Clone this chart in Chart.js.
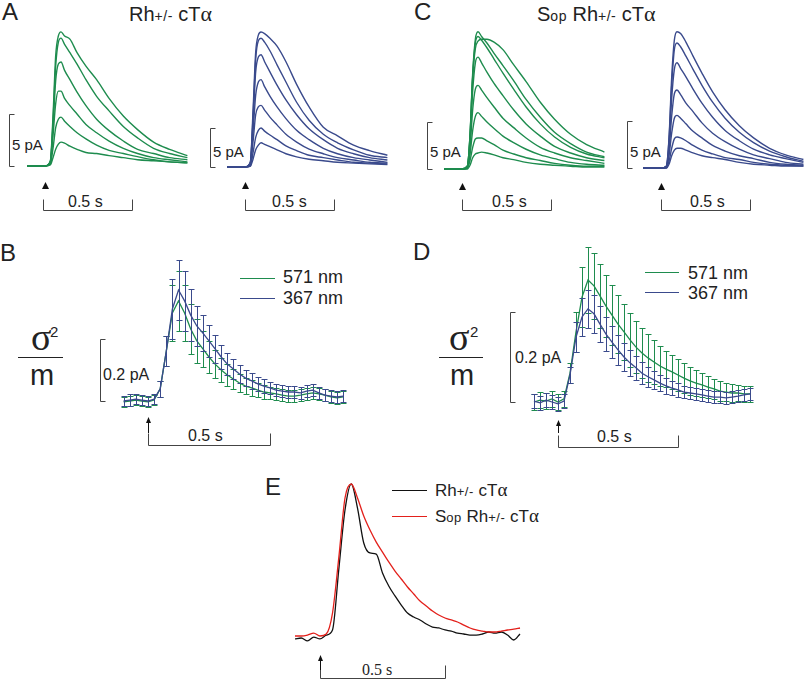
<!DOCTYPE html>
<html>
<head>
<meta charset="utf-8">
<script src="https://cdn.jsdelivr.net/npm/chart.js@4"></script>
<style>
  body { margin: 0; background: #fff; }
  #fig { position: relative; width: 805px; height: 681px; overflow: hidden;
         font-family: "Liberation Sans", Arial, sans-serif; color: #222; }
  #fig canvas { position: absolute; }
  .t { position: absolute; line-height: 1; white-space: nowrap; }
  .L { font-size: 24px; }
  .ttl { font-size: 20px; }
  .sm { font-size: 14px; letter-spacing: 0.5px; }
  .al { font-family: "Liberation Serif", serif; font-size: 22px; }
  .s14 { font-size: 15px; }
  .s15 { font-size: 16px; }
  .leg { font-size: 18px; }
  .eleg { font-size: 17px; }
  .eleg .sm { font-size: 13px; }
  .eleg .al { font-size: 19px; }
  .serif { font-family: "Liberation Serif", serif; }
  .ln { position: absolute; height: 0; border-top: 1.5px solid; }
  .frac { position: absolute; height: 0; border-top: 1.5px solid #222; }
</style>
</head>
<body>
<div id="fig">
  <!-- panel letters -->
  <div class="t L" style="left:2px;top:0px">A</div>
  <div class="t L" style="left:414px;top:0px">C</div>
  <div class="t L" style="left:0px;top:241px">B</div>
  <div class="t L" style="left:413px;top:240px">D</div>
  <div class="t L" style="left:265px;top:475px">E</div>

  <!-- titles -->
  <div class="t ttl" style="left:129px;top:3px">Rh<span class="sm">+/-</span> cT<span class="al">α</span></div>
  <div class="t ttl" style="left:537px;top:3px">S<span class="sm">op</span> Rh<span class="sm">+/-</span> cT<span class="al">α</span></div>

  <!-- scale bar labels A / C -->
  <div class="t s14" style="left:12px;top:137px">5 pA</div>
  <div class="t s14" style="left:213px;top:144px">5 pA</div>
  <div class="t s14" style="left:430px;top:144px">5 pA</div>
  <div class="t s14" style="left:630px;top:144px">5 pA</div>
  <div class="t s15" style="left:68px;top:194px">0.5 s</div>
  <div class="t s15" style="left:272px;top:194px">0.5 s</div>
  <div class="t s15" style="left:492px;top:194px">0.5 s</div>
  <div class="t s15" style="left:690px;top:194px">0.5 s</div>

  <!-- B -->
  <div class="t serif" style="left:31px;top:318px;font-size:38px">σ</div>
  <div class="t" style="left:50px;top:324px;font-size:15px">2</div>
  <div class="frac" style="left:18px;top:357px;width:45px"></div>
  <div class="t" style="left:30px;top:361px;font-size:29px">m</div>
  <div class="t s15" style="left:103px;top:367px">0.2 pA</div>
  <div class="t s15" style="left:188px;top:428px">0.5 s</div>
  <div class="ln" style="left:240px;top:278px;width:35px;border-color:#1e8c4e"></div>
  <div class="ln" style="left:240px;top:298px;width:35px;border-color:#3a4a8c"></div>
  <div class="t leg" style="left:283px;top:268px">571 nm</div>
  <div class="t leg" style="left:283px;top:289px">367 nm</div>

  <!-- D -->
  <div class="t serif" style="left:449px;top:318px;font-size:38px">σ</div>
  <div class="t" style="left:470px;top:324px;font-size:15px">2</div>
  <div class="frac" style="left:439px;top:357px;width:44px"></div>
  <div class="t" style="left:450px;top:361px;font-size:29px">m</div>
  <div class="t s15" style="left:515px;top:350px">0.2 pA</div>
  <div class="t s15" style="left:597px;top:429px">0.5 s</div>
  <div class="ln" style="left:645px;top:272px;width:34px;border-color:#1e8c4e"></div>
  <div class="ln" style="left:645px;top:292px;width:34px;border-color:#3a4a8c"></div>
  <div class="t leg" style="left:688px;top:264px">571 nm</div>
  <div class="t leg" style="left:688px;top:284px">367 nm</div>

  <!-- E -->
  <div class="ln" style="left:392px;top:490px;width:35px;border-color:#111"></div>
  <div class="ln" style="left:392px;top:516px;width:35px;border-color:#e3201b"></div>
  <div class="t eleg" style="left:435px;top:480px">Rh<span class="sm">+/-</span> cT<span class="al">α</span></div>
  <div class="t eleg" style="left:435px;top:506px">S<span class="sm">op</span> Rh<span class="sm">+/-</span> cT<span class="al">α</span></div>
  <div class="t serif" style="left:362px;top:662px;font-size:16px">0.5 s</div>
</div>

<script>
// sample times (s) of the single-cell response families, 0 = flash
var traceTime = [-0.1, -0.05, 0, 0.03, 0.045, 0.06, 0.075, 0.09, 0.11, 0.14, 0.18, 0.23, 0.29, 0.36, 0.44, 0.52, 0.61, 0.7, 0.8];

// A, Rh+/- cTa, responses to 571 nm flashes (pA)
var aGreen = [
  [0, 0, 0, 0.5, 4.8, 10.6, 12.5, 12.9, 12.5, 12.2, 10.9, 9.6, 8.3, 6.5, 4.8, 3.5, 2.3, 1.6, 1.0],
  [0, 0, 0, 0.4, 4.3, 9.6, 11.9, 12.3, 11.7, 10.9, 9.8, 8.3, 6.7, 5.3, 3.8, 2.7, 1.7, 1.2, 0.8],
  [0, 0, 0, 0.4, 3.8, 8.2, 9.8, 10.0, 9.2, 8.3, 7.1, 5.8, 4.5, 3.4, 2.4, 1.6, 1.2, 0.8, 0.6],
  [0, 0, 0, 0.3, 2.9, 6.0, 7.2, 7.2, 6.5, 5.8, 5.0, 4.0, 3.2, 2.4, 1.7, 1.2, 0.8, 0.6, 0.4],
  [0, 0, 0, 0.2, 1.7, 3.7, 4.5, 4.7, 4.3, 3.8, 3.2, 2.6, 2.0, 1.5, 1.2, 0.9, 0.6, 0.4, 0.3],
  [0, 0, 0, 0.1, 0.8, 1.6, 2.1, 2.3, 2.2, 1.9, 1.6, 1.3, 1.2, 1.0, 0.8, 0.6, 0.5, 0.4, 0.3]
];
// A, 367 nm flashes (pA)
var aBlue = [
  [0, 0, 0, 0.6, 7.1, 14.7, 16.9, 17.3, 17.1, 16.5, 15.5, 13.5, 10.6, 7.7, 5.1, 4.0, 2.8, 2.1, 1.5],
  [0, 0, 0, 0.6, 6.4, 13.8, 16.2, 16.5, 16.0, 14.9, 13.1, 10.9, 8.3, 6.0, 4.2, 3.1, 2.2, 1.5, 1.2],
  [0, 0, 0, 0.5, 5.8, 12.2, 14.1, 14.4, 13.5, 12.2, 10.5, 8.6, 6.7, 4.9, 3.5, 2.4, 1.7, 1.2, 0.9],
  [0, 0, 0, 0.4, 4.5, 9.2, 10.9, 11.2, 10.3, 9.1, 7.7, 6.2, 4.7, 3.5, 2.4, 1.7, 1.2, 0.9, 0.6],
  [0, 0, 0, 0.3, 3.2, 6.7, 7.7, 7.9, 7.3, 6.4, 5.4, 4.2, 3.2, 2.3, 1.7, 1.2, 0.9, 0.6, 0.5],
  [0, 0, 0, 0.1, 1.8, 3.8, 4.7, 5.0, 4.6, 4.1, 3.5, 2.7, 2.1, 1.5, 1.2, 0.9, 0.6, 0.5, 0.4],
  [0, 0, 0, 0.1, 1.0, 2.2, 2.8, 3.1, 2.9, 2.6, 2.2, 1.7, 1.3, 1.0, 0.8, 0.6, 0.5, 0.4, 0.3]
];
// C, Sop Rh+/- cTa, 571 nm (pA)
var cGreen = [
  [0, 0, 0, 0.3, 3.6, 10.2, 13.8, 14.6, 14.1, 13.4, 12.3, 11.0, 9.4, 7.4, 5.5, 3.9, 2.7, 1.8, 1.3],
  [0, 0, 0, 0.3, 3.4, 9.7, 12.8, 13.6, 13.8, 13.8, 13.5, 12.7, 11.1, 9.3, 7.1, 5.3, 3.7, 2.6, 1.8],
  [0, 0, 0, 0.3, 3.5, 9.9, 13.4, 14.1, 13.7, 12.9, 11.7, 10.2, 8.5, 6.6, 4.8, 3.4, 2.3, 1.6, 1.2],
  [0, 0, 0, 0.2, 3.0, 8.3, 11.3, 11.9, 11.3, 10.3, 9.1, 7.8, 6.3, 4.8, 3.5, 2.4, 1.7, 1.2, 0.9],
  [0, 0, 0, 0.2, 2.2, 6.3, 8.5, 8.9, 8.4, 7.6, 6.6, 5.4, 4.4, 3.3, 2.3, 1.7, 1.2, 0.9, 0.6],
  [0, 0, 0, 0.1, 1.5, 4.1, 5.6, 6.0, 5.6, 5.0, 4.3, 3.5, 2.8, 2.1, 1.5, 1.1, 0.7, 0.5, 0.4],
  [0, 0, 0, 0.1, 0.9, 2.3, 3.2, 3.3, 3.3, 3.0, 2.6, 2.0, 1.6, 1.2, 0.9, 0.6, 0.4, 0.3, 0.3],
  [0, 0, 0, 0, 0.4, 1.2, 1.6, 1.7, 1.8, 1.7, 1.5, 1.2, 1.0, 0.7, 0.5, 0.4, 0.3, 0.2, 0.2]
];
// C, 367 nm (pA)
var cBlue = [
  [0, 0, 0, 0.2, 3.2, 9.6, 13.6, 14.5, 14.3, 13.4, 11.9, 10.1, 8.1, 6.2, 4.5, 3.2, 2.1, 1.4, 0.9],
  [0, 0, 0, 0.2, 3.0, 8.8, 12.6, 13.3, 12.9, 11.9, 10.5, 8.8, 7.0, 5.3, 3.8, 2.7, 1.8, 1.2, 0.7],
  [0, 0, 0, 0.2, 2.4, 7.4, 10.5, 11.2, 10.6, 9.7, 8.4, 6.9, 5.4, 4.0, 2.9, 2.0, 1.4, 1.0, 0.6],
  [0, 0, 0, 0.1, 1.8, 5.5, 7.9, 8.3, 7.8, 6.9, 6.0, 4.8, 3.7, 2.8, 2.0, 1.4, 1.0, 0.6, 0.4],
  [0, 0, 0, 0.1, 1.3, 3.7, 5.3, 5.6, 5.3, 4.7, 3.9, 3.2, 2.4, 1.8, 1.3, 1.0, 0.6, 0.4, 0.3],
  [0, 0, 0, 0, 0.7, 2.1, 3.1, 3.3, 3.2, 2.9, 2.4, 1.9, 1.5, 1.1, 0.9, 0.6, 0.4, 0.3, 0.2],
  [0, 0, 0, 0, 0.4, 1.3, 1.9, 2.1, 2.1, 1.9, 1.6, 1.3, 1.1, 0.9, 0.6, 0.4, 0.3, 0.2, 0.2]
];

// sample times (s) of the averaged sigma^2/m curves and of E
var meanTime = [-0.1, -0.075, -0.05, -0.025, 0, 0.025, 0.05, 0.075, 0.1, 0.125, 0.15, 0.175, 0.2,
  0.225, 0.25, 0.275, 0.3, 0.325, 0.35, 0.375, 0.4, 0.425, 0.45, 0.475, 0.5, 0.525, 0.55, 0.575,
  0.6, 0.625, 0.65, 0.675, 0.7, 0.725, 0.75, 0.775, 0.8];

// B, Rh+/- cTa, sigma^2/m (pA) and SEM
var bMean571 = [-0.003, 0, 0.003, 0, -0.003, 0.003, 0.039, 0.161, 0.284, 0.323, 0.284, 0.232, 0.194, 0.168, 0.142, 0.119, 0.1, 0.084, 0.071, 0.058, 0.048, 0.042, 0.035, 0.029, 0.026, 0.023, 0.019, 0.016, 0.016, 0.019, 0.023, 0.026, 0.023, 0.019, 0.013, 0.01, 0.013];
var bErr571 = [0.016, 0.016, 0.016, 0.016, 0.016, 0.016, 0.026, 0.048, 0.09, 0.097, 0.09, 0.081, 0.071, 0.058, 0.052, 0.045, 0.039, 0.035, 0.032, 0.029, 0.026, 0.026, 0.023, 0.023, 0.019, 0.019, 0.019, 0.019, 0.019, 0.019, 0.019, 0.019, 0.019, 0.019, 0.019, 0.019, 0.019];
var bMean367 = [0, 0.003, 0.006, 0.003, 0, 0.006, 0.039, 0.161, 0.297, 0.358, 0.323, 0.277, 0.242, 0.219, 0.194, 0.168, 0.142, 0.119, 0.103, 0.087, 0.074, 0.065, 0.055, 0.048, 0.042, 0.035, 0.032, 0.029, 0.029, 0.026, 0.032, 0.035, 0.026, 0.019, 0.016, 0.013, 0.016];
var bErr367 = [0.016, 0.019, 0.016, 0.016, 0.016, 0.016, 0.026, 0.048, 0.097, 0.097, 0.097, 0.084, 0.065, 0.058, 0.052, 0.045, 0.039, 0.035, 0.032, 0.029, 0.026, 0.026, 0.023, 0.023, 0.019, 0.019, 0.019, 0.019, 0.019, 0.019, 0.019, 0.019, 0.019, 0.019, 0.019, 0.019, 0.019];

// D, Sop Rh+/- cTa
var dMean571 = [0, 0.004, 0.002, 0.007, 0, 0.007, 0.064, 0.156, 0.233, 0.271, 0.258, 0.236, 0.213, 0.193, 0.173, 0.156, 0.138, 0.122, 0.109, 0.098, 0.089, 0.08, 0.073, 0.067, 0.06, 0.053, 0.047, 0.042, 0.038, 0.033, 0.029, 0.024, 0.022, 0.02, 0.02, 0.018, 0.018];
var dErr571 = [0.018, 0.018, 0.018, 0.018, 0.018, 0.018, 0.022, 0.044, 0.067, 0.073, 0.073, 0.071, 0.069, 0.067, 0.064, 0.062, 0.06, 0.058, 0.056, 0.053, 0.049, 0.044, 0.04, 0.038, 0.036, 0.033, 0.031, 0.029, 0.027, 0.024, 0.022, 0.022, 0.02, 0.02, 0.018, 0.018, 0.018];
var dMean367 = [0.002, -0.002, 0.004, 0, -0.004, 0.002, 0.06, 0.144, 0.189, 0.207, 0.196, 0.173, 0.151, 0.133, 0.116, 0.1, 0.087, 0.076, 0.064, 0.056, 0.049, 0.042, 0.036, 0.031, 0.027, 0.022, 0.02, 0.018, 0.016, 0.013, 0.011, 0.011, 0.009, 0.011, 0.013, 0.016, 0.018];
var dErr367 = [0.016, 0.016, 0.016, 0.016, 0.016, 0.016, 0.018, 0.033, 0.042, 0.042, 0.042, 0.04, 0.038, 0.036, 0.033, 0.031, 0.029, 0.027, 0.024, 0.022, 0.02, 0.018, 0.018, 0.016, 0.016, 0.013, 0.013, 0.013, 0.013, 0.013, 0.013, 0.013, 0.013, 0.013, 0.013, 0.013, 0.013];

// E, normalised sigma^2/m
var eRh = [-0.006, 0, -0.019, 0.006, -0.006, 0.019, 0.052, 0.442, 0.831, 1.0, 0.844, 0.617, 0.552, 0.545, 0.422, 0.338, 0.273, 0.214, 0.162, 0.136, 0.117, 0.091, 0.071, 0.065, 0.052, 0.045, 0.032, 0.026, 0.019, 0.019, 0.026, 0.039, 0.032, 0.039, 0.019, -0.013, 0.026];
var eSopRh = [0.013, 0.013, 0.019, 0.032, 0.013, 0.026, 0.162, 0.519, 0.909, 1.0, 0.909, 0.792, 0.701, 0.623, 0.558, 0.494, 0.435, 0.383, 0.331, 0.286, 0.24, 0.208, 0.175, 0.149, 0.13, 0.117, 0.104, 0.084, 0.065, 0.052, 0.045, 0.039, 0.039, 0.045, 0.052, 0.058, 0.065];

var GREEN = '#1e8c4e', BLUE = '#3a4a8c', RED = '#e3201b', BLACK = '#111', BAR = '#444';

function pts(times, vals) {
  return times.map(function (t, i) { return { x: t, y: vals[i] }; });
}

function traceSet(list, color) {
  return list.map(function (vals) {
    return { data: pts(traceTime, vals), borderColor: color, borderWidth: 1.4,
             cubicInterpolationMode: 'monotone', clip: false, fill: false };
  });
}

function meanSet(vals, errs, color) {
  return { data: pts(meanTime, vals), errors: errs, borderColor: color, borderWidth: 1.3,
           tension: 0, clip: false, fill: false };
}

// error bars, scale bars, flash arrows
var marks = {
  id: 'marks',
  beforeDatasetDraw: function (chart, args) {
    var ds = chart.data.datasets[args.index];
    if (!ds.errors) return;
    var ctx = chart.ctx, xs = chart.scales.x, ys = chart.scales.y;
    ctx.save();
    ctx.strokeStyle = ds.borderColor;
    ctx.lineWidth = 1;
    ds.data.forEach(function (p, i) {
      var x = Math.round(xs.getPixelForValue(p.x)) + 0.5;
      var y1 = Math.round(ys.getPixelForValue(p.y + ds.errors[i])) + 0.5;
      var y2 = Math.round(ys.getPixelForValue(p.y - ds.errors[i])) + 0.5;
      ctx.beginPath();
      ctx.moveTo(x, y1); ctx.lineTo(x, y2);
      ctx.moveTo(x - 3, y1); ctx.lineTo(x + 3, y1);
      ctx.moveTo(x - 3, y2); ctx.lineTo(x + 3, y2);
      ctx.stroke();
    });
    ctx.restore();
  },
  afterDraw: function (chart, args, o) {
    var ctx = chart.ctx, xs = chart.scales.x, ys = chart.scales.y;
    var y0 = ys.getPixelForValue(0);
    ctx.save();
    ctx.strokeStyle = BAR;
    ctx.fillStyle = '#111';
    ctx.lineWidth = 1;
    if (o.bracket) {
      var bx = Math.round(xs.getPixelForValue(o.bracket.x)) + 0.5;
      var b1 = Math.round(y0) + 0.5;
      var b2 = Math.round(ys.getPixelForValue(o.bracket.size)) + 0.5;
      ctx.beginPath();
      ctx.moveTo(bx + o.bracket.tick, b2); ctx.lineTo(bx, b2);
      ctx.lineTo(bx, b1); ctx.lineTo(bx + o.bracket.tick, b1);
      ctx.stroke();
    }
    if (o.bar) {
      var x1 = Math.round(xs.getPixelForValue(o.bar.x)) + 0.5;
      var x2 = Math.round(xs.getPixelForValue(o.bar.x + o.bar.len)) + 0.5;
      var by = Math.round(y0 + o.bar.dy) + 0.5;
      ctx.beginPath();
      ctx.moveTo(x1, by - o.bar.tick); ctx.lineTo(x1, by);
      ctx.lineTo(x2, by); ctx.lineTo(x2, by - o.bar.tick);
      ctx.stroke();
    }
    if (o.arrow) {
      var ax = xs.getPixelForValue(0);
      var tip = y0 + o.arrow.dy;
      if (o.arrow.stem) {
        ctx.beginPath();
        ctx.moveTo(Math.round(ax) + 0.5, tip + 4);
        ctx.lineTo(Math.round(ax) + 0.5, tip + o.arrow.stem);
        ctx.strokeStyle = '#111';
        ctx.stroke();
      }
      ctx.beginPath();
      ctx.moveTo(ax + 0.5, tip);
      ctx.lineTo(ax + 0.5 + o.arrow.w, tip + o.arrow.h);
      ctx.lineTo(ax + 0.5 - o.arrow.w, tip + o.arrow.h);
      ctx.closePath();
      ctx.fill();
    }
    ctx.restore();
  }
};

var fig = document.getElementById('fig');

// box: canvas rectangle on the page; anchor: page pixel of (t = 0, value = 0)
function panel(box, anchor, pxX, pxY, xr, yr, datasets, markOpts) {
  var c = document.createElement('canvas');
  c.width = box.w; c.height = box.h;
  c.style.left = box.x + 'px'; c.style.top = box.y + 'px';
  fig.appendChild(c);
  var pad = {
    left: anchor[0] + xr[0] * pxX - box.x,
    right: box.x + box.w - (anchor[0] + xr[1] * pxX),
    top: anchor[1] - yr[1] * pxY - box.y,
    bottom: box.y + box.h - (anchor[1] - yr[0] * pxY)
  };
  return new Chart(c, {
    type: 'line',
    data: { datasets: datasets },
    options: {
      responsive: false,
      animation: false,
      layout: { padding: pad },
      elements: { point: { radius: 0 } },
      scales: {
        x: { type: 'linear', min: xr[0], max: xr[1], display: false },
        y: { type: 'linear', min: yr[0], max: yr[1], display: false }
      },
      plugins: { legend: { display: false }, tooltip: { enabled: false }, marks: markOpts }
    },
    plugins: [marks]
  });
}

var xr = [-0.12, 0.8];

// A
panel({ x: 0, y: 20, w: 200, h: 200 }, [45, 166], 178, 10.4, xr, [-0.5, 13.5], traceSet(aGreen, GREEN),
  { bracket: { x: -0.202, size: 5, tick: 5 }, bar: { x: -0.011, len: 0.5, dy: 44, tick: 11 }, arrow: { dy: 16, h: 7, w: 3.5 } });
panel({ x: 200, y: 20, w: 200, h: 200 }, [245, 167], 178, 7.8, xr, [-0.5, 18], traceSet(aBlue, BLUE),
  { bracket: { x: -0.197, size: 5, tick: 5 }, bar: { x: 0, len: 0.5, dy: 43, tick: 11 }, arrow: { dy: 15, h: 7, w: 3.5 } });
// C
panel({ x: 410, y: 20, w: 200, h: 200 }, [462, 169], 178, 9.4, xr, [-0.5, 15], traceSet(cGreen, GREEN),
  { bracket: { x: -0.197, size: 5, tick: 5 }, bar: { x: 0, len: 0.5, dy: 41, tick: 11 }, arrow: { dy: 14, h: 7, w: 3.5 } });
panel({ x: 610, y: 20, w: 195, h: 200 }, [661, 168], 178, 9.4, xr, [-0.5, 15], traceSet(cBlue, BLUE),
  { bracket: { x: -0.191, size: 5, tick: 5 }, bar: { x: 0, len: 0.5, dy: 42, tick: 11 }, arrow: { dy: 15, h: 7, w: 3.5 } });

// B
panel({ x: 90, y: 240, w: 270, h: 215 }, [148, 401], 244, 310, xr, [-0.05, 0.5],
  [meanSet(bMean367, bErr367, BLUE), meanSet(bMean571, bErr571, GREEN)],
  { bracket: { x: -0.197, size: 0.2, tick: 5 }, bar: { x: 0, len: 0.5, dy: 44, tick: 12 }, arrow: { dy: 16, h: 6, w: 2.5, stem: 16 } });
// D
panel({ x: 500, y: 240, w: 270, h: 215 }, [558, 402], 240, 450, xr, [-0.05, 0.35],
  [meanSet(dMean367, dErr367, BLUE), meanSet(dMean571, dErr571, GREEN)],
  { bracket: { x: -0.2, size: 0.2, tick: 5 }, bar: { x: 0, len: 0.5, dy: 45, tick: 12 }, arrow: { dy: 18, h: 6, w: 2.5, stem: 13 } });
// E
panel({ x: 285, y: 470, w: 250, h: 211 }, [320, 638], 250, 154, xr, [-0.1, 1.05],
  [
    { data: pts(meanTime, eSopRh), borderColor: RED, borderWidth: 1.3, cubicInterpolationMode: 'monotone', clip: false, fill: false },
    { data: pts(meanTime, eRh), borderColor: BLACK, borderWidth: 1.3, cubicInterpolationMode: 'monotone', clip: false, fill: false }
  ],
  { bar: { x: 0, len: 0.5, dy: 40, tick: 13 }, arrow: { dy: 17, h: 6, w: 2.5, stem: 15 } });
</script>
</body>
</html>
